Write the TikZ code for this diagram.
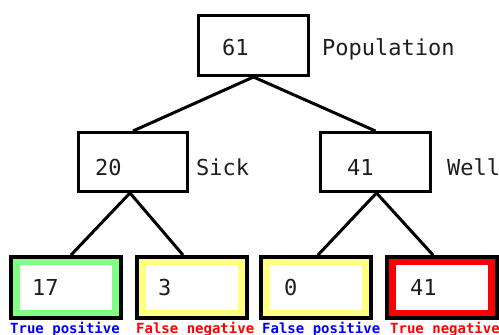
\documentclass[tikz,border=0pt]{standalone}
\usepackage{fontspec}
\newfontfamily\pix{DejaVu Sans Mono}
\usetikzlibrary{calc}
\definecolor{lgreen}{RGB}{128,255,128}
\definecolor{lyellow}{RGB}{255,255,128}
\definecolor{pred}{RGB}{255,0,0}
\definecolor{pblue}{RGB}{0,0,255}
\definecolor{ink}{RGB}{30,30,30}
\tikzset{
  box/.style={draw=black, line width=3pt, fill=white, minimum width=110pt, minimum height=60pt, inner sep=0pt},
  leaf/.style={draw=black, line width=4pt, minimum width=110pt, minimum height=61pt, inner sep=0pt},
  num/.style={font=\pix\fontsize{22}{22}\selectfont, text=ink, anchor=base west, inner sep=0pt},
  lab/.style={font=\pix\fontsize{22}{22}\selectfont, text=ink, anchor=base west, inner sep=0pt},
  cls/.style={font=\pix\bfseries\fontsize{14}{14}\selectfont, anchor=base west, inner sep=0pt},
  edge/.style={line width=3pt, draw=black}
}
\begin{document}
\begin{tikzpicture}[x=1pt,y=-1pt]
\useasboundingbox[fill=white] (0,0) rectangle (499,335);
\node[box] (top) at (253.5,45.5) {};
\node[box, minimum width=109pt, minimum height=59pt] (sick) at (133,162) {};
\node[box, minimum width=110pt, minimum height=59pt] (well) at (375.5,162) {};
\node[leaf, fill=lgreen] (b1) at (66,287.5) {};
\node[leaf, fill=lyellow] (b2) at (192,287.5) {};
\node[leaf, fill=lyellow] (b3) at (316,287.5) {};
\node[leaf, fill=pred] (b4) at (442,287.5) {};
\draw[edge] (top.south) -- (sick.north);
\draw[edge] (top.south) -- (well.north);
\draw[edge] ([xshift=-3pt]sick.south) -- ([xshift=5pt]b1.north);
\draw[edge] ([xshift=-3pt]sick.south) -- ([xshift=-9pt]b2.north);
\draw[edge] ([xshift=1pt]well.south) -- ([xshift=2pt]b3.north);
\draw[edge] ([xshift=1pt]well.south) -- ([xshift=-9pt]b4.north);
\node[box] at (top) {};
\node[box, minimum width=109pt, minimum height=59pt] at (sick) {};
\node[box, minimum width=110pt, minimum height=59pt] at (well) {};
\node[leaf, fill=lgreen] at (b1) {};
\node[leaf, fill=lyellow] at (b2) {};
\node[leaf, fill=lyellow] at (b3) {};
\node[leaf, fill=pred] at (b4) {};
\foreach \b in {b1,b2,b3,b4}{
  \fill[white] ($(\b.north west)+(11,10)$) rectangle ($(\b.south east)+(-11,-10)$);
}
\node[num] (n61) at (222,55) {61};
\node[num] (n20) at (95,175) {20};
\node[num] (n41) at (347,175) {41};
\node[num] (n17) at (32,295) {17};
\node[num] (n3) at (158,295) {3};
\node[num] (n0) at (284,295) {0};
\node[num] (n41b) at (410,295) {41};
\node[lab] (lpop) at (322,55) {Population};
\node[lab] (lsick) at (196,175) {Sick};
\node[lab] (lwell) at (447,175) {Well};
\node[cls, text=pblue] (c1) at (10,333) {True positive};
\node[cls, text=pred] (c2) at (136,333) {False negative};
\node[cls, text=pblue] (c3) at (262,333) {False positive};
\node[cls, text=pred] (c4) at (390,333) {True negative};
\end{tikzpicture}
\end{document}
